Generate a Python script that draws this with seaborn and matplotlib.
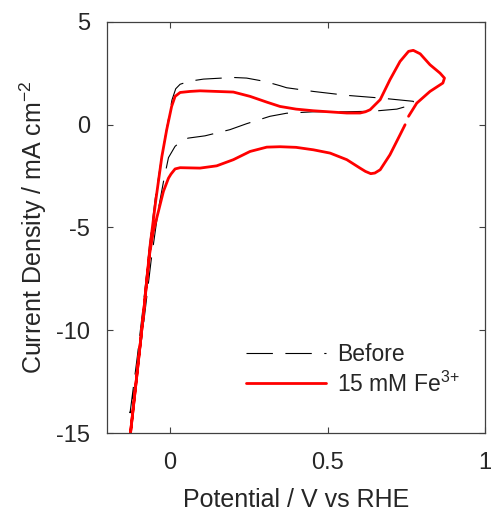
import numpy as np
import pandas as pd
import matplotlib
matplotlib.use("Agg")
import matplotlib.pyplot as plt
import seaborn as sns

# ---- data ----
before_x = [-0.127, -0.104, -0.085, -0.066, -0.047, -0.030, -0.012, 0.006, 0.018, 0.032,
            0.063, 0.106, 0.200, 0.243, 0.300, 0.349, 0.370, 0.455, 0.561, 0.667, 0.772, 0.775,
            0.720, 0.645, 0.561, 0.455, 0.370, 0.317, 0.243, 0.190, 0.111, 0.058, 0.041,
            0.016, -0.005, -0.020, -0.037, -0.060, -0.085, -0.106, -0.127]
before_y = [-14.03, -11.3, -8.8, -6.0, -3.6, -1.9, -0.3, 1.20, 1.75, 1.97,
            2.12, 2.22, 2.30, 2.27, 2.11, 1.90, 1.80, 1.62, 1.43, 1.30, 1.14, 1.00,
            0.76, 0.66, 0.63, 0.63, 0.56, 0.41, 0.05, -0.24, -0.54, -0.65, -0.73,
            -1.05, -1.60, -2.70, -4.10, -6.6, -9.8, -12.3, -14.03]

fe_x = [0.746, 0.730, 0.698, 0.667, 0.650, 0.637, 0.620, 0.603, 0.561, 0.508, 0.455, 0.400,
        0.349, 0.307, 0.254, 0.201, 0.148, 0.095, 0.032, 0.016, 0.003, -0.005, -0.021,
        -0.037, -0.053, -0.065, -0.085, -0.104, -0.127,
        -0.104, -0.085, -0.063, -0.045, -0.026, -0.0106, 0.005, 0.016, 0.032, 0.063,
        0.095, 0.201, 0.254, 0.307, 0.349, 0.400, 0.455, 0.561, 0.603, 0.620, 0.635, 0.667,
        0.698, 0.730, 0.757, 0.772, 0.794, 0.825, 0.857, 0.871, 0.866, 0.825, 0.783, 0.757]
fe_y = [0.00, -0.49, -1.46, -2.19, -2.35, -2.38, -2.27, -2.11, -1.70, -1.38, -1.22, -1.10,
        -1.07, -1.09, -1.30, -1.70, -2.00, -2.11, -2.09, -2.15, -2.40, -2.60, -3.24,
        -4.22, -5.19, -6.30, -9.30, -12.0, -15.2,
        -12.0, -9.30, -5.84, -3.65, -1.55, -0.24, 0.89, 1.38, 1.57, 1.62,
        1.65, 1.59, 1.38, 1.10, 0.89, 0.76, 0.68, 0.57, 0.57, 0.63, 0.73, 1.22,
        2.19, 3.08, 3.57, 3.62, 3.45, 2.92, 2.51, 2.27, 2.03, 1.62, 1.05, 0.41]

labels = ["Before", "15 mM Fe$^{3{+}}$"]
xticks = [0, 0.5, 1]
xticklabels = ["0", "0.5", "1"]
yticks = [5, 0, -5, -10, -15]

# ---- style ----
sns.set_style("white")
plt.rcParams["font.family"] = ["Liberation Sans", "DejaVu Sans"]
plt.rcParams["mathtext.default"] = "regular"
plt.rcParams["lines.scale_dashes"] = False
plt.rcParams["lines.solid_joinstyle"] = "round"
plt.rcParams["lines.dash_joinstyle"] = "round"
text_col = "#262626"

df_before = pd.DataFrame({"x": before_x, "y": before_y})
df_fe = pd.DataFrame({"x": fe_x, "y": fe_y})

fig = plt.figure(figsize=(4.91, 5.11), dpi=100)
ax = fig.add_axes([0.218, 0.1526, 0.770, 0.8044])

sns.lineplot(data=df_before, x="x", y="y", sort=False, estimator=None, ax=ax,
             color="black", linewidth=0.8, label=labels[0])
ax.lines[-1].set_dashes((19, 9))
sns.lineplot(data=df_fe, x="x", y="y", sort=False, estimator=None, ax=ax,
             color="#ff0000", linewidth=2.0, label=labels[1])

ax.set_xlim(-0.2, 1)
ax.set_ylim(-15, 5)
ax.set_xticks(xticks)
ax.set_xticklabels(xticklabels)
ax.set_yticks(yticks)
ax.set_yticklabels([str(v) for v in yticks])

ax.tick_params(direction="in", length=4, width=0.8, colors="#404040",
               labelcolor=text_col, labelsize=17, top=True, right=True,
               bottom=True, left=True)
ax.tick_params(axis="y", pad=12)
ax.tick_params(axis="x", pad=14)
for s in ax.spines.values():
    s.set_visible(True)
    s.set_color("#404040")
    s.set_linewidth(0.9)

ax.set_xlabel("Potential / V vs RHE", fontsize=18, color=text_col, labelpad=10)
ax.set_ylabel("Current Density / mA cm$^{-2}$", fontsize=18, color=text_col, labelpad=5)

leg = ax.legend(loc="upper left", bbox_to_anchor=(0.368, 0.22), frameon=False,
                fontsize=16.5, handlelength=3.5, handletextpad=0.45,
                labelspacing=0.25, borderpad=0, borderaxespad=0)
for t in leg.get_texts():
    t.set_color(text_col)

fig.savefig("out.png", dpi=100)
